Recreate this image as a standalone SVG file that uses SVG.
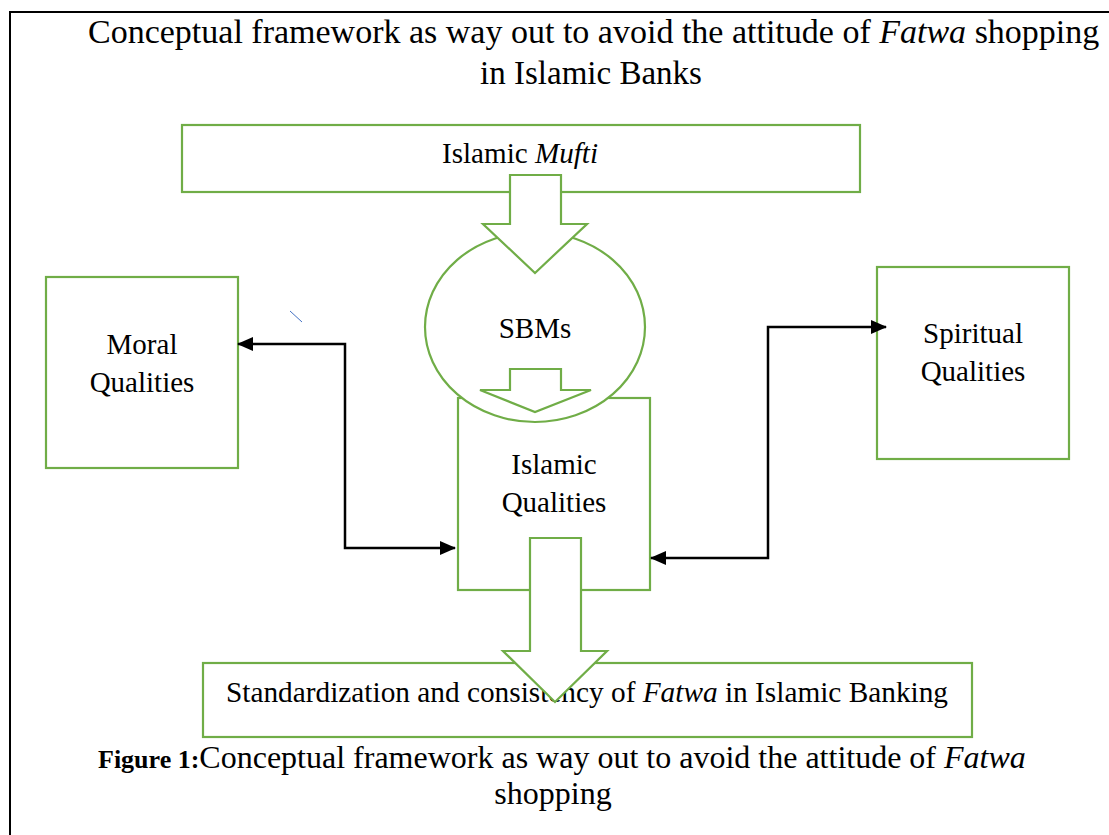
<svg xmlns="http://www.w3.org/2000/svg" width="1109" height="835" viewBox="0 0 1109 835">
<style>
.g{fill:#fff;stroke:#70AD47;stroke-width:2.2}
.t{font-family:"Liberation Serif","Times New Roman",serif;font-size:29px;fill:#000}
.h{font-family:"Liberation Serif","Times New Roman",serif;font-size:34px;fill:#000}
.c{stroke:#000;stroke-width:2.5;fill:none;marker-start:url(#ah);marker-end:url(#ah)}
</style>
<defs>
<marker id="ah" markerWidth="16" markerHeight="14" refX="15" refY="7" orient="auto-start-reverse" markerUnits="userSpaceOnUse">
<path d="M0,0 L16,7 L0,14 Z" fill="#000"/>
</marker>
</defs>
<rect width="1109" height="835" fill="#fff"/>
<path d="M10,835 V12 H1109" fill="none" stroke="#000" stroke-width="2"/>
<g id="title">
<text class="h" x="88" y="43">Conceptual framework as way out to avoid the attitude of <tspan font-style="italic">Fatwa</tspan> shopping</text>
<text class="h" x="591" y="84" style="font-size:33px" text-anchor="middle">in Islamic Banks</text>
</g>
<g id="mufti">
<rect class="g" x="182" y="125" width="678" height="67"/>
<text class="t" x="442" y="163" textLength="156" lengthAdjust="spacingAndGlyphs">Islamic <tspan font-style="italic">Mufti</tspan></text>
</g>
<g id="moral">
<rect class="g" x="46" y="277" width="192" height="191"/>
<text class="t" x="142" y="354" text-anchor="middle">Moral</text>
<text class="t" x="142" y="392" text-anchor="middle">Qualities</text>
</g>
<g id="spiritual">
<rect class="g" x="877" y="267" width="192" height="192"/>
<text class="t" x="973" y="343" text-anchor="middle">Spiritual</text>
<text class="t" x="973" y="381" text-anchor="middle">Qualities</text>
</g>
<g id="islamic">
<rect class="g" x="458" y="398" width="192" height="192"/>
<text class="t" x="554" y="474" text-anchor="middle">Islamic</text>
<text class="t" x="554" y="512" text-anchor="middle">Qualities</text>
</g>
<g id="sbms">
<ellipse class="g" cx="535" cy="327" rx="110" ry="95"/>
<text class="t" x="535" y="338" text-anchor="middle">SBMs</text>
<polygon class="g" points="510,369 561,369 561,390 591,390 535,412 480,390 510,390"/>
</g>
<g id="arrow-mufti-sbms">
<polygon class="g" points="510,175 561,175 561,224 587,224 535,273 483,224 510,224"/>
</g>
<g id="standardization">
<rect class="g" x="203" y="663" width="769" height="74"/>
<text class="t" x="226" y="702" textLength="722" lengthAdjust="spacingAndGlyphs">Standardization and consistency of <tspan font-style="italic">Fatwa</tspan> in Islamic Banking</text>
</g>
<g id="arrow-islamic-standard">
<polygon class="g" points="530,538 581,538 581,651 607,651 555,702 503,651 530,651"/>
</g>
<g id="connectors">
<path class="c" d="M238,344 H345 V548 H455"/>
<path class="c" d="M651,558 H768 V327 H886"/>
<line x1="290" y1="311" x2="302" y2="322" stroke="#4472C4" stroke-width="1"/>
</g>
<g id="caption">
<text class="h" x="98" y="768" style="font-size:32px"><tspan font-weight="bold" style="font-size:26px">Figure 1:</tspan>Conceptual framework as way out to avoid the attitude of <tspan font-style="italic">Fatwa</tspan></text>
<text class="h" x="553" y="804" style="font-size:32px" text-anchor="middle">shopping</text>
</g>
</svg>
